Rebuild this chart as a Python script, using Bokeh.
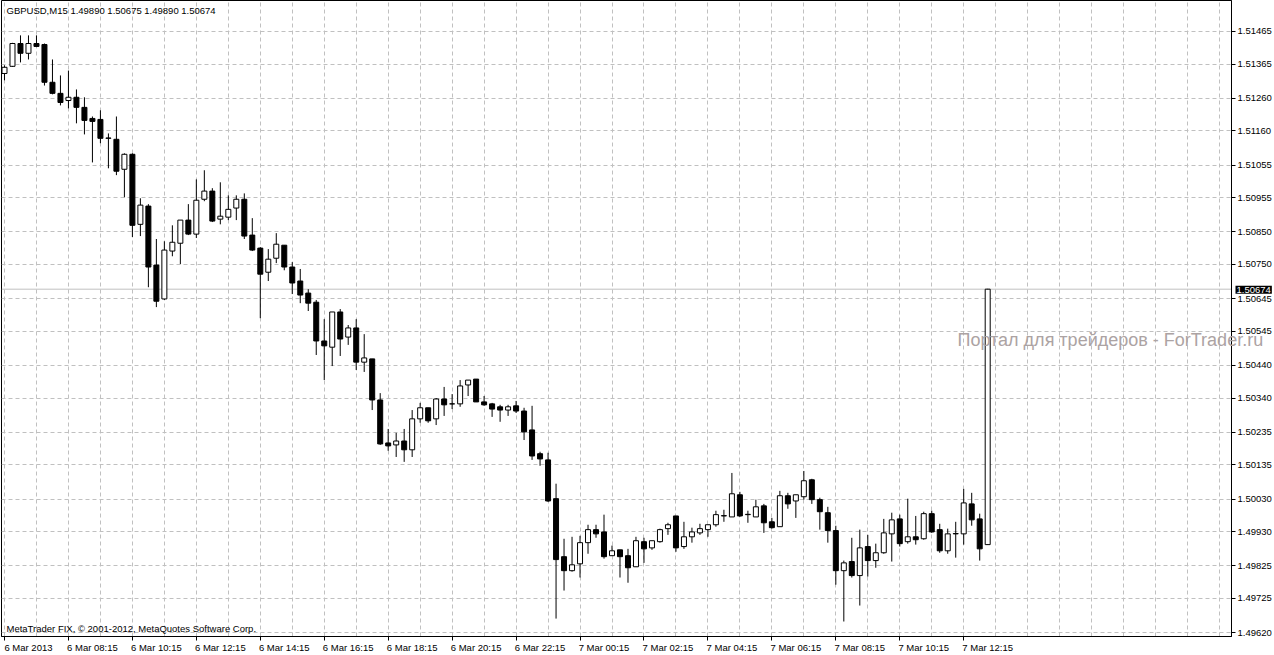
from bokeh.plotting import figure
from bokeh.layouts import row
from bokeh.models import (Range1d, LinearAxis, FixedTicker, Grid, Label, Span,
                          ColumnDataSource, NumeralTickFormatter)
from bokeh.embed import file_html
from bokeh.resources import INLINE

# ---- data: GBPUSD M15 candles (6 Mar 2013 06:15 ... 7 Mar 2013 13:00) ----
opens = [1.51336, 1.51358, 1.51428, 1.51398, 1.51428, 1.51425, 1.51309, 1.51275, 1.51253, 1.51263,
         1.51232, 1.51198, 1.51195, 1.51137, 1.51134, 1.51042, 1.51088, 1.50873, 1.50929, 1.50748,
         1.50644, 1.50791, 1.50815, 1.50886, 1.50843, 1.50950, 1.50975, 1.50889, 1.50895, 1.50923,
         1.50950, 1.50840, 1.50800, 1.50726, 1.50769, 1.50809, 1.50742, 1.50699, 1.50662, 1.50634,
         1.50515, 1.50496, 1.50604, 1.50527, 1.50555, 1.50450, 1.50460, 1.50334, 1.50202, 1.50196,
         1.50208, 1.50181, 1.50276, 1.50310, 1.50276, 1.50337, 1.50322, 1.50322, 1.50380, 1.50398,
         1.50328, 1.50322, 1.50313, 1.50303, 1.50316, 1.50300, 1.50242, 1.50169, 1.50150, 1.50031,
         1.49853, 1.49810, 1.49831, 1.49896, 1.49936, 1.49929, 1.49856, 1.49874, 1.49856, 1.49822,
         1.49899, 1.49880, 1.49899, 1.49939, 1.49978, 1.49884, 1.49914, 1.49926, 1.49936, 1.49951,
         1.49978, 1.49975, 1.50043, 1.49982, 1.49975, 1.50009, 1.49960, 1.49945, 1.50040, 1.50024,
         1.50037, 1.50089, 1.50028, 1.49988, 1.49933, 1.49810, 1.49838, 1.49795, 1.49884, 1.49841,
         1.49865, 1.49923, 1.49969, 1.49899, 1.49914, 1.49908, 1.49985, 1.49936, 1.49871, 1.49923,
         1.49923, 1.50015, 1.49969, 1.49890]
highs = [1.51361, 1.51430, 1.51453, 1.51453, 1.51453, 1.51428, 1.51379, 1.51330, 1.51345, 1.51287,
         1.51263, 1.51204, 1.51223, 1.51152, 1.51204, 1.51091, 1.51091, 1.50953, 1.50935, 1.50828,
         1.50821, 1.50870, 1.50886, 1.50935, 1.51011, 1.51039, 1.50984, 1.51002, 1.50962, 1.50962,
         1.50968, 1.50892, 1.50803, 1.50797, 1.50846, 1.50809, 1.50757, 1.50736, 1.50674, 1.50641,
         1.50582, 1.50604, 1.50613, 1.50564, 1.50582, 1.50536, 1.50460, 1.50355, 1.50245, 1.50233,
         1.50245, 1.50303, 1.50325, 1.50310, 1.50340, 1.50374, 1.50352, 1.50395, 1.50395, 1.50398,
         1.50346, 1.50325, 1.50319, 1.50319, 1.50331, 1.50310, 1.50316, 1.50175, 1.50172, 1.50077,
         1.49908, 1.49914, 1.49917, 1.49951, 1.49951, 1.49982, 1.49887, 1.49874, 1.49877, 1.49914,
         1.49911, 1.49902, 1.49939, 1.49957, 1.49978, 1.49960, 1.49942, 1.49954, 1.49951, 1.49994,
         1.49997, 1.50110, 1.50052, 1.49994, 1.50028, 1.50015, 1.49972, 1.50055, 1.50049, 1.50043,
         1.50116, 1.50092, 1.50034, 1.50006, 1.49948, 1.49841, 1.49911, 1.49936, 1.49920, 1.49893,
         1.49969, 1.49988, 1.49982, 1.50031, 1.49978, 1.49991, 1.49994, 1.49954, 1.49939, 1.49960,
         1.50061, 1.50049, 1.49985, 1.50675]
lows = [1.51315, 1.51356, 1.51370, 1.51379, 1.51417, 1.51299, 1.51272, 1.51238, 1.51229, 1.51183,
        1.51149, 1.51063, 1.51122, 1.51045, 1.51024, 1.50956, 1.50834, 1.50837, 1.50680, 1.50619,
        1.50641, 1.50775, 1.50751, 1.50840, 1.50831, 1.50944, 1.50880, 1.50873, 1.50886, 1.50886,
        1.50828, 1.50791, 1.50585, 1.50699, 1.50754, 1.50732, 1.50659, 1.50631, 1.50607, 1.50472,
        1.50395, 1.50438, 1.50469, 1.50503, 1.50426, 1.50420, 1.50303, 1.50196, 1.50178, 1.50159,
        1.50144, 1.50159, 1.50264, 1.50264, 1.50257, 1.50285, 1.50306, 1.50313, 1.50346, 1.50328,
        1.50316, 1.50282, 1.50267, 1.50285, 1.50294, 1.50211, 1.50150, 1.50132, 1.50021, 1.49663,
        1.49749, 1.49807, 1.49789, 1.49862, 1.49911, 1.49847, 1.49856, 1.49789, 1.49773, 1.49822,
        1.49834, 1.49874, 1.49896, 1.49920, 1.49868, 1.49877, 1.49896, 1.49920, 1.49914, 1.49945,
        1.49960, 1.49975, 1.49975, 1.49957, 1.49975, 1.49926, 1.49939, 1.49945, 1.50000, 1.49972,
        1.50028, 1.50015, 1.49936, 1.49896, 1.49767, 1.49654, 1.49789, 1.49703, 1.49792, 1.49819,
        1.49862, 1.49838, 1.49884, 1.49893, 1.49890, 1.49905, 1.49926, 1.49865, 1.49862, 1.49850,
        1.49890, 1.49948, 1.49841, 1.49890]
closes = [1.51355, 1.51428, 1.51398, 1.51428, 1.51419, 1.51309, 1.51275, 1.51247, 1.51263, 1.51232,
          1.51192, 1.51189, 1.51137, 1.51138, 1.51036, 1.51088, 1.50870, 1.50932, 1.50742, 1.50637,
          1.50794, 1.50818, 1.50886, 1.50843, 1.50947, 1.50975, 1.50883, 1.50898, 1.50919, 1.50950,
          1.50837, 1.50794, 1.50720, 1.50766, 1.50812, 1.50742, 1.50693, 1.50656, 1.50631, 1.50515,
          1.50500, 1.50604, 1.50521, 1.50555, 1.50450, 1.50463, 1.50334, 1.50199, 1.50193, 1.50208,
          1.50181, 1.50276, 1.50310, 1.50270, 1.50337, 1.50319, 1.50322, 1.50377, 1.50395, 1.50328,
          1.50319, 1.50306, 1.50303, 1.50313, 1.50300, 1.50236, 1.50162, 1.50153, 1.50024, 1.49844,
          1.49810, 1.49828, 1.49896, 1.49936, 1.49923, 1.49853, 1.49871, 1.49853, 1.49819, 1.49902,
          1.49877, 1.49902, 1.49936, 1.49951, 1.49880, 1.49914, 1.49929, 1.49939, 1.49951, 1.49982,
          1.49979, 1.50046, 1.49978, 1.49983, 1.50006, 1.49957, 1.49942, 1.50040, 1.50015, 1.50043,
          1.50086, 1.50028, 1.49991, 1.49933, 1.49810, 1.49834, 1.49795, 1.49880, 1.49841, 1.49865,
          1.49926, 1.49966, 1.49893, 1.49914, 1.49905, 1.49985, 1.49929, 1.49871, 1.49923, 1.49924,
          1.50018, 1.49966, 1.49877, 1.50674]

# bar index of each time label (every 8 bars = 2 hours) and its text
time_tick_bars = [0, 8, 16, 24, 32, 40, 48, 56, 64, 72, 80, 88, 96, 104, 112, 120]
time_labels = ["6 Mar 2013", "6 Mar 08:15", "6 Mar 10:15", "6 Mar 12:15", "6 Mar 14:15",
               "6 Mar 16:15", "6 Mar 18:15", "6 Mar 20:15", "6 Mar 22:15", "7 Mar 00:15",
               "7 Mar 02:15", "7 Mar 04:15", "7 Mar 06:15", "7 Mar 08:15", "7 Mar 10:15",
               "7 Mar 12:15"]
price_ticks = [1.51465, 1.51365, 1.51260, 1.51160, 1.51055, 1.50955, 1.50850, 1.50750, 1.50645,
               1.50545, 1.50440, 1.50340, 1.50235, 1.50135, 1.50030, 1.49930, 1.49825, 1.49725,
               1.49620]
last_price = 1.50674
title_text = "GBPUSD,M15  1.49890 1.50675 1.49890 1.50674"
copyright_text = "MetaTrader FIX, \u00a9 2001-2012, MetaQuotes Software Corp."
watermark_text = "Портал для трейдеров - ForTrader.ru"

# ---- layout ----
FONT = "Liberation Sans"
W, H = 1274, 655
LEFT, RIGHT, BOTTOM = 1, 42, 18
FW, FH = W - LEFT - RIGHT, H - BOTTOM
X0 = -0.375
X1 = X0 + FW / 8.0
Y0, Y1 = 1.49608, 1.51560
px_x = (X1 - X0) / FW
px_y = (Y1 - Y0) / FH

idx = list(range(len(opens)))
src = ColumnDataSource(dict(
    x=idx, o=opens, h=highs, l=lows, c=closes,
    top=[max(o, c) for o, c in zip(opens, closes)],
    bottom=[min(o, c) for o, c in zip(opens, closes)],
    fill=["white" if c >= o else "black" for o, c in zip(opens, closes)],
))

p = figure(width=W, height=H, output_backend="svg", toolbar_location=None,
           x_range=Range1d(X0, X1), y_range=Range1d(Y0, Y1),
           x_axis_location=None, y_axis_location="right",
           min_border_left=LEFT, min_border_top=0, min_border_right=RIGHT,
           min_border_bottom=BOTTOM)
p.background_fill_color = "white"
p.border_fill_color = "white"
p.outline_line_color = "black"
p.outline_line_width = 1
p.grid.visible = False

# grids
xgrid = Grid(dimension=0, ticker=FixedTicker(ticks=list(range(0, 156, 4))),
             grid_line_color="#c0c0c0", grid_line_dash="4 3", grid_line_width=1)
ygrid = Grid(dimension=1, ticker=FixedTicker(ticks=price_ticks),
             grid_line_color="#c0c0c0", grid_line_dash="4 3", grid_line_width=1)
p.add_layout(xgrid)
p.add_layout(ygrid)

# current price line
span = Span(location=last_price, dimension="width", line_color="#c0c0c0", line_width=1,
            level="underlay")
p.add_layout(span)

# candles
p.segment(x0="x", y0="h", x1="x", y1="l", source=src, line_color="black", line_width=1)
p.vbar(x="x", width=5 * px_x, top="top", bottom="bottom", source=src,
       fill_color="fill", line_color="black", line_width=1)

# right price axis
ya = p.yaxis[0]
ya.ticker = FixedTicker(ticks=price_ticks)
ya.formatter = NumeralTickFormatter(format="0.00000")
ya.major_tick_out = 4
ya.major_tick_in = 0
ya.minor_tick_line_color = None
ya.major_label_standoff = 2
ya.axis_line_color = "black"
ya.major_tick_line_color = "black"
ya.major_label_text_font = FONT
ya.major_label_text_font_size = "9.5px"
ya.major_label_text_color = "black"

# bottom time axis: tick marks
ax_ticks = LinearAxis(ticker=FixedTicker(ticks=time_tick_bars), major_tick_out=4, major_tick_in=0,
                      minor_tick_line_color=None, axis_line_color="black",
                      major_tick_line_color="black", major_label_text_color=None,
                      major_label_text_font_size="1px", major_label_standoff=0)
p.add_layout(ax_ticks, "below")
# bottom time axis: labels, left-aligned at their tick like MetaTrader
label_bars = [b + 3 for b in time_tick_bars]
ax_labels = LinearAxis(ticker=FixedTicker(ticks=label_bars),
                       major_label_overrides={b: t for b, t in zip(label_bars, time_labels)},
                       axis_line_color=None, major_tick_line_color=None,
                       minor_tick_line_color=None, major_tick_out=0, major_tick_in=0,
                       major_label_standoff=1, major_label_text_font=FONT,
                       major_label_text_font_size="9.5px", major_label_text_color="black")
p.add_layout(ax_labels, "below")

# texts inside the chart
p.add_layout(Label(x=X0 + 5 * px_x, y=Y1 - 10 * px_y, text=title_text, text_font=FONT,
                   text_font_size="9.5px", text_color="black", text_baseline="middle"))
p.add_layout(Label(x=X0 + 5 * px_x, y=Y0 + 8 * px_y, text=copyright_text, text_font=FONT,
                   text_font_size="9.5px", text_color="black", text_baseline="middle"))

# transparent overlay figure covering the whole canvas (same scales as the chart),
# so that texts can run over the price scale like in MetaTrader
ov = figure(frame_width=W, frame_height=H, output_backend="svg", toolbar_location=None,
            x_range=Range1d(X0 - LEFT * px_x, X0 + (W - LEFT) * px_x),
            y_range=Range1d(Y1 - H * px_y, Y1),
            x_axis_location=None, y_axis_location=None,
            min_border_left=0, min_border_top=0, min_border_right=0, min_border_bottom=0)
ov.background_fill_alpha = 0
ov.border_fill_alpha = 0
ov.outline_line_color = None
ov.grid.visible = False
ov.margin = (0, 0, 0, -W)

ov.add_layout(Label(x=X0 + 956 * px_x, y=1.50521, text=watermark_text, text_font=FONT,
                    text_font_size="18px", text_color="#aca3a3", text_baseline="middle"))
ov.add_layout(Label(x=X1 + 3 * px_x, y=last_price, text="1.50674", text_font=FONT,
                    text_font_size="9.5px", text_color="white", text_baseline="middle",
                    background_fill_color="black", padding=1))

layout = row(p, ov, spacing=0)
open("out.html", "w").write(file_html(layout, INLINE))
